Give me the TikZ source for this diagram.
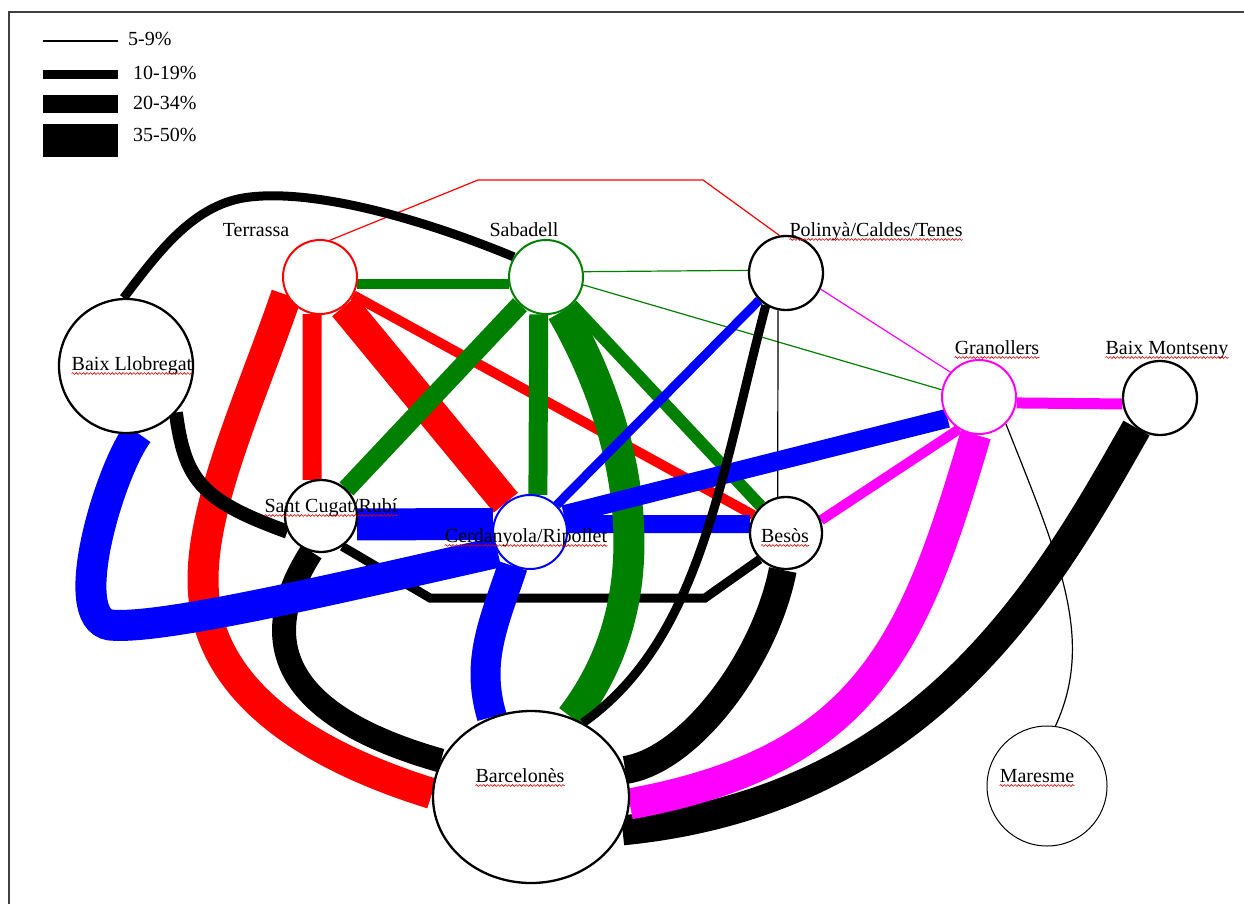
\documentclass[tikz,border=0pt]{standalone}
\usepackage{fontspec}
\setmainfont{Liberation Serif}
\usetikzlibrary{shapes.geometric,decorations.pathmorphing}
\definecolor{netred}{RGB}{255,0,0}
\definecolor{netgreen}{RGB}{0,128,0}
\definecolor{netblue}{RGB}{0,0,255}
\definecolor{netmag}{RGB}{255,0,255}
\pgfdeclarelayer{paper}
\pgfdeclarelayer{links}
\pgfsetlayers{paper,links,main}
\newcommand\labfont{\fontsize{20}{23}\selectfont}
\tikzset{
  hub/.style={circle, draw=black, fill=white, line width=2.3pt, inner sep=0pt, minimum size=74pt},
  lbl/.style={inner sep=0pt, anchor=base, font=\labfont},
  squig/.style={draw=red!85!black, line width=0.6pt, decorate,
    decoration={snake, amplitude=0.9pt, segment length=3.6pt}},
  wA/.style={line width=1.2pt},
  wB/.style={line width=10pt},
  wC/.style={line width=19pt},
  wD/.style={line width=31pt},
}
\newcommand\squiggle[1]{\draw[squig] ([yshift=-3.5pt]#1.base west) -- ([yshift=-3.5pt]#1.base east);}
\begin{document}
\begin{tikzpicture}[x=1pt,y=-1pt]
\useasboundingbox (0,0) rectangle (1244,904);
\begin{pgfonlayer}{paper}
\fill[white] (0,0) rectangle (1244,904);
\end{pgfonlayer}
\draw[black!75, line width=1.6pt] (9,904) -- (9,12) -- (1244,12);

% legend
\draw[black, line width=1.2pt] (43,41) -- (118,41);
\fill[black] (43,70) rectangle (118,79);
\fill[black] (43,95) rectangle (118,113);
\fill[black] (43,124) rectangle (118,157);
\node[lbl, anchor=base west] (k1) at (128,46) {5-9\%};
\node[lbl, anchor=base west] (k2) at (133,80) {10-19\%};
\node[lbl, anchor=base west] (k3) at (133,110) {20-34\%};
\node[lbl, anchor=base west] (k4) at (133,142) {35-50\%};

% areas
\node[hub, draw=netred, line width=2pt] (terr) at (320,277) {};
\node[hub, draw=netgreen, line width=2pt] (sab) at (546,277) {};
\node[hub] (pol) at (786,273) {};
\node[hub, draw=netmag, line width=2pt] (gran) at (979,397) {};
\node[hub] (bmo) at (1160,398) {};
\node[hub, minimum size=134pt] (bll) at (126,366) {};
\node[hub, minimum size=72pt] (stc) at (321,516) {};
\node[hub, draw=netblue, line width=2pt] (cerd) at (530,532) {};
\node[hub, minimum size=72pt] (bes) at (786,533) {};
\node[ellipse, draw=black, fill=white, line width=2.3pt, inner sep=0pt,
      minimum width=196pt, minimum height=172pt] (barc) at (531,797) {};
\node[hub, minimum size=120pt, line width=1pt] (mar) at (1047,786) {};

\begin{pgfonlayer}{links}
% 5-9% links
\draw[netred, wA] (terr.75) -- (478,180) -- (703,180) -- (pol.100);
\draw[netgreen, wA] (sab.8) -- (pol.176);
\draw[netgreen, wA] (sab.-12) -- (gran.169);
\draw[netmag, wA] (pol.-25) -- (gran.139);
\draw[black, wA] (pol.-102) -- (bes.103);
\draw[black, wA] (gran.-45) .. controls (1060,560) and (1095,640) .. (mar.82);

% Terrassa
\draw[netred, wD] (terr.-152) .. controls (251,398) and (203,500) .. (203,580)
  .. controls (203,660) and (260,740) .. (barc.178);
\draw[netred, wC] (terr.-102) -- (stc.104);
\draw[netred, wD] (terr) -- (cerd);
\draw[netred, wB] (terr) -- (bes);

% Baix Llobregat and Sant Cugat (black)
\draw[black, line width=9pt] (bll.92) .. controls (160,250) and (195,203) .. (250,197)
  .. controls (320,189) and (430,222) .. (sab.148);
\draw[black, line width=14pt] (bll.-43) .. controls (185,480) and (200,500) .. (stc.205);
\draw[black, line width=24pt] (stc.-105) .. controls (255,640) and (280,715) .. (barc.158);
\draw[black, line width=9pt] (stc.-55) -- (430,598) -- (705,598) -- (bes.-135);

% Cerdanyola, horizontal bars
\draw[netblue, line width=32pt] (stc.-13) -- (cerd.168);
\draw[netblue, line width=18pt] (cerd.12) -- (bes.166);

% Sabadell
\draw[netgreen, wB] (sab.191) -- (terr.-11);
\draw[netgreen, wC] (sab) -- (stc);
\draw[netgreen, wC] (sab.-101) -- (cerd.78);
\draw[netgreen, line width=12pt] (sab) -- (bes);
\draw[netgreen, wD] (sab.-65) .. controls (625,420) and (670,590) .. (barc.63);

% Cerdanyola, other links
\draw[netblue, wC] (cerd.27) -- (gran.214);
\draw[netblue, line width=9pt] (cerd) -- (pol);
\draw[netblue, wD] (cerd.212) .. controls (330,590) and (160,630) .. (110,625)
  .. controls (65,618) and (110,470) .. (bll.-80);
\draw[netblue, line width=30pt] (cerd.-117) .. controls (495,620) and (475,660) .. (barc.116);

% links into Barcelones from the east
\draw[black, line width=9pt] (pol.-122) .. controls (720,480) and (700,640) .. (barc.55);
\draw[black, line width=28pt] (bes.-95) .. controls (765,660) and (690,760) .. (barc.16);
\draw[black, line width=30pt] (bmo.-128) .. controls (1050,580) and (930,800) .. (barc.-20);

% Granollers
\draw[netmag, line width=11pt] (gran.-9) -- (bmo.189);
\draw[netmag, wB] (gran.-122) -- (bes.20);
\draw[netmag, wD] (gran.-95) .. controls (915,640) and (870,760) .. (barc.-4);
\end{pgfonlayer}

% names
\node[lbl] (tterr) at (256,236) {Terrassa};
\node[lbl] (tsab) at (524,236) {Sabadell};
\node[lbl] (tpol) at (876,236) {Polinyà/Caldes/Tenes};
\node[lbl] (tgran) at (997,354) {Granollers};
\node[lbl] (tbmo) at (1167,354) {Baix Montseny};
\node[lbl] (tbll) at (132,370) {Baix Llobregat};
\node[lbl] (tstc) at (331,512) {Sant Cugat/Rubí};
\node[lbl] (tcerd) at (526,542) {Cerdanyola/Ripollet};
\node[lbl] (tbes) at (785,542) {Besòs};
\node[lbl] (tbarc) at (520,782) {Barcelonès};
\node[lbl] (tmar) at (1037,782) {Maresme};

\squiggle{tpol}
\squiggle{tgran}
\squiggle{tbmo}
\squiggle{tbll}
\squiggle{tstc}
\squiggle{tcerd}
\squiggle{tbes}
\squiggle{tbarc}
\squiggle{tmar}
\end{tikzpicture}
\end{document}
